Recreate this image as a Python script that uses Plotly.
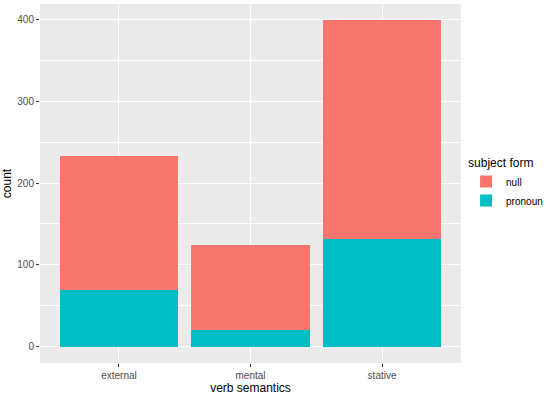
import plotly.graph_objects as go

categories = ["external", "mental", "stative"]
pronoun = [69, 20, 132]
null = [164, 104, 267]
series_names = ["null", "pronoun"]
y_ticks = [0, 100, 200, 300, 400]

fig = go.Figure()
fig.add_trace(go.Bar(x=categories, y=pronoun, name="pronoun", marker=dict(color="#00BFC4", line=dict(width=0)), width=0.9))
fig.add_trace(go.Bar(x=categories, y=null, name="null", marker=dict(color="#F8766D", line=dict(width=0)), width=0.9))

ymax = max(p + n for p, n in zip(pronoun, null))
fig.update_layout(
    width=550, height=396,
    barmode="stack",
    paper_bgcolor="white",
    plot_bgcolor="#EBEBEB",
    margin=dict(l=40, r=89, t=4, b=33, autoexpand=False),
    font=dict(family="Liberation Sans, Arial, sans-serif", size=10, color="black"),
    legend=dict(
        title=dict(text="subject form", font=dict(size=12, color="black")),
        traceorder="reversed",
        x=1.012, xanchor="left", y=0.5, yanchor="middle",
        font=dict(size=10, color="black"),
        bgcolor="rgba(0,0,0,0)",
        tracegroupgap=2,
    ),
    showlegend=True,
)
fig.update_xaxes(
    range=[-0.6, 2.6],
    showgrid=True, gridcolor="white", gridwidth=1.2,
    ticks="outside", ticklen=3, tickcolor="#333333", tickwidth=1,
    tickfont=dict(size=10, color="#4D4D4D"),
    title=dict(text="verb semantics", font=dict(size=12, color="black"), standoff=1),
    zeroline=False,
)
fig.update_yaxes(
    range=[-0.05 * ymax, 1.05 * ymax],
    tickvals=y_ticks,
    showgrid=True, gridcolor="white", gridwidth=1.2,
    minor=dict(dtick=50, tick0=0, showgrid=True, gridcolor="white", gridwidth=0.5),
    ticks="outside", ticklen=3, tickcolor="#333333", tickwidth=1,
    tickfont=dict(size=10, color="#4D4D4D"),
    title=dict(text="count", font=dict(size=12, color="black"), standoff=4),
    zeroline=False,
)
fig.write_html("out.html", config={"displayModeBar": False},
               post_script="document.body.style.margin='0';")
